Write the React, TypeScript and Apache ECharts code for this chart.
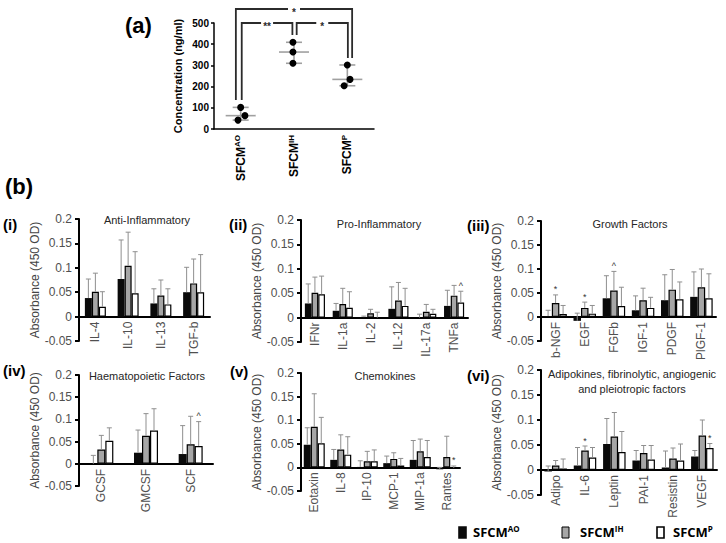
import React, { useEffect, useRef } from 'react';
import * as echarts from 'echarts';

const FONT = "'Liberation Sans', Arial, Helvetica, sans-serif";
const LEGEND_FONT = "'Open Sans', 'Liberation Sans', Arial, sans-serif";
const AXIS_GREY = '#505050';

// Groups
const groupNames = ['AO', 'IH', 'P'];
const groupFill = ['#0a0a0a', '#a6a6a6', '#ffffff'];

// ---- Panel (a): concentration, ng/ml (three replicates per group)
const aReplicates = [
  [102, 63, 42],
  [409, 363, 310],
  [302, 234, 204],
];
const aDotJitter = [
  [0, 0.08, -0.05],
  [-0.02, -0.02, -0.02],
  [0, 0.05, -0.06],
];
const aBrackets = [
  { left: 0.41, right: 2.59, top: 566, leftEnd: 137, rightEnd: 335, label: '*' },
  { left: 0.52, right: 1.47, top: 500, leftEnd: 137, rightEnd: 443, label: '**' },
  { left: 1.55, right: 2.51, top: 500, leftEnd: 443, rightEnd: 335, label: '*' },
];

// ---- Panel (i) Anti-Inflammatory
const iCats = ['IL-4', 'IL-10', 'IL-13', 'TGF-b'];
const iAO = [0.038, 0.077, 0.027, 0.05];
const iIH = [0.051, 0.104, 0.043, 0.068];
const iP = [0.02, 0.048, 0.025, 0.05];
const iAOsd = [0.039, 0.08, 0.03, 0.051];
const iIHsd = [0.038, 0.069, 0.032, 0.05];
const iPsd = [0.031, 0.085, 0.032, 0.077];
const iMarks: [number, number, string][] = [];

// ---- Panel (ii) Pro-Inflammatory
const iiCats = ['IFNr', 'IL-1a', 'IL-2', 'IL-12', 'IL-17a', 'TNFa'];
const iiAO = [0.029, 0.014, 0.001, 0.018, 0.0, 0.024];
const iiIH = [0.051, 0.028, 0.009, 0.035, 0.012, 0.045];
const iiP = [0.048, 0.02, 0.0, 0.024, 0.008, 0.031];
const iiAOsd = [0.04, 0.015, 0.002, 0.045, 0.007, 0.032];
const iiIHsd = [0.032, 0.032, 0.008, 0.037, 0.015, 0.021];
const iiPsd = [0.037, 0.033, 0.011, 0.036, 0.009, 0.023];
const iiMarks: [number, number, string][] = [[5, 2, '^']];

// ---- Panel (iii) Growth Factors
const iiiCats = ['b-NGF', 'EGF', 'FGFb', 'IGF-1', 'PDGF', 'PlGF-1'];
const iiiAO = [0.002, -0.008, 0.039, 0.014, 0.035, 0.042];
const iiiIH = [0.029, 0.019, 0.055, 0.035, 0.057, 0.062];
const iiiP = [0.006, 0.007, 0.023, 0.019, 0.037, 0.039];
const iiiAOsd = [0.012, 0.016, 0.047, 0.03, 0.053, 0.052];
const iiiIHsd = [0.017, 0.012, 0.04, 0.025, 0.042, 0.038];
const iiiPsd = [0.018, 0.017, 0.039, 0.022, 0.036, 0.051];
const iiiMarks: [number, number, string][] = [[0, 1, '*'], [1, 1, '*'], [2, 1, '^']];

// ---- Panel (iv) Haematopoietic Factors
const ivCats = ['GCSF', 'GMCSF', 'SCF'];
const ivAO = [0.0, 0.025, 0.022];
const ivIH = [0.032, 0.063, 0.044];
const ivP = [0.052, 0.075, 0.04];
const ivAOsd = [0.019, 0.051, 0.064];
const ivIHsd = [0.032, 0.05, 0.063];
const ivPsd = [0.029, 0.049, 0.055];
const ivMarks: [number, number, string][] = [[2, 2, '^']];

// ---- Panel (v) Chemokines
const vCats = ['Eotaxin', 'IL-8', 'IP-10', 'MCP-1', 'MIP-1a', 'Rantes'];
const vAO = [0.048, 0.016, 0.001, 0.009, 0.016, -0.004];
const vIH = [0.086, 0.038, 0.013, 0.018, 0.034, 0.022];
const vP = [0.051, 0.027, 0.013, 0.004, 0.022, -0.001];
const vAOsd = [0.036, 0.022, 0.013, 0.015, 0.041, 0.004];
const vIHsd = [0.07, 0.031, 0.021, 0.013, 0.026, 0.044];
const vPsd = [0.055, 0.038, 0.024, 0.015, 0.035, 0.004];
const vMarks: [number, number, string][] = [[5, 2, '*']];

// ---- Panel (vi) Adipokines, fibrinolytic, angiogenic and pleiotropic factors
const viCats = ['Adipo', 'IL-6', 'Leptin', 'PAI-1', 'Resistin', 'VEGF'];
const viAO = [-0.003, 0.009, 0.052, 0.019, 0.005, 0.027];
const viIH = [0.009, 0.039, 0.067, 0.034, 0.023, 0.069];
const viP = [0.003, 0.025, 0.036, 0.021, 0.019, 0.044];
const viAOsd = [0.011, 0.036, 0.051, 0.02, 0.033, 0.012];
const viIHsd = [0.01, 0.009, 0.048, 0.015, 0.021, 0.031];
const viPsd = [0.019, 0.02, 0.041, 0.028, 0.033, 0.009];
const viMarks: [number, number, string][] = [[1, 1, '*'], [5, 2, '*']];

// Layout (positions/styles only)
const panels = [
  { tag: '(i)', title: ['Anti-Inflammatory'], cats: iCats, vals: [iAO, iIH, iP], sds: [iAOsd, iIHsd, iPsd], marks: iMarks,
    grid: { left: 79, top: 219, width: 131, height: 122 }, bw: 7, nameGap: 36, tagPos: [3, 224], titlePos: [147, 220] },
  { tag: '(ii)', title: ['Pro-Inflammatory'], cats: iiCats, vals: [iiAO, iiIH, iiP], sds: [iiAOsd, iiIHsd, iiPsd], marks: iiMarks,
    grid: { left: 301, top: 220, width: 167, height: 122 }, bw: 6.7, nameGap: 32, tagPos: [229, 224], titlePos: [379, 224] },
  { tag: '(iii)', title: ['Growth Factors'], cats: iiiCats, vals: [iiiAO, iiiIH, iiiP], sds: [iiiAOsd, iiiIHsd, iiiPsd], marks: iiiMarks,
    grid: { left: 541, top: 221, width: 175, height: 120 }, bw: 7.5, nameGap: 33, tagPos: [467, 225], titlePos: [630, 224] },
  { tag: '(iv)', title: ['Haematopoietic Factors'], cats: ivCats, vals: [ivAO, ivIH, ivP], sds: [ivAOsd, ivIHsd, ivPsd], marks: ivMarks,
    grid: { left: 79, top: 375, width: 134, height: 111 }, bw: 8, nameGap: 37, tagPos: [3, 370], titlePos: [147, 376] },
  { tag: '(v)', title: ['Chemokines'], cats: vCats, vals: [vAO, vIH, vP], sds: [vAOsd, vIHsd, vPsd], marks: vMarks,
    grid: { left: 301, top: 373, width: 159, height: 118 }, bw: 7, nameGap: 33, tagPos: [230, 371], titlePos: [385, 376] },
  { tag: '(vi)', title: ['Adipokines, fibrinolytic, angiogenic', 'and pleiotropic factors'], cats: viCats, vals: [viAO, viIH, viP], sds: [viAOsd, viIHsd, viPsd], marks: viMarks,
    grid: { left: 541, top: 370, width: 176, height: 125 }, bw: 7.5, nameGap: 33, tagPos: [467, 375], titlePos: [632, 374] },
];

function median(a: number[]) {
  const s = [...a].sort((x, y) => x - y);
  return s[Math.floor(s.length / 2)];
}

const supRich = (size: number, supSize: number, family: string) => ({
  b: { fontSize: size, fontWeight: 'bold', fontFamily: family, color: '#000', lineHeight: size + 2 },
  s: { fontSize: supSize, fontWeight: 'bold', fontFamily: family, color: '#000', verticalAlign: 'top', lineHeight: supSize + 1 },
});

function buildOption() {
  const grids: any[] = [{ left: 214, top: 23, width: 160, height: 106, outerBoundsMode: 'none' }];
  const xAxes: any[] = [
    {
      gridIndex: 0, type: 'category', data: groupNames,
      axisLine: { lineStyle: { color: '#000', width: 1.5 } },
      axisTick: { show: false },
      axisLabel: {
        rotate: 90, margin: 6, interval: 0,
        formatter: (v: string) => `{b|SFCM}{s|${v}}`,
        rich: supRich(12, 8, FONT),
      },
    },
    { gridIndex: 0, type: 'value', min: 0, max: 3, show: false },
  ];
  const yAxes: any[] = [
    {
      gridIndex: 0, type: 'value', min: 0, max: 500, interval: 100,
      axisLine: { show: true, lineStyle: { color: '#000', width: 1.5 } },
      axisTick: { show: true, length: 3, lineStyle: { color: '#000', width: 1.5 } },
      axisLabel: { color: '#000', fontSize: 10, fontWeight: 'bold', fontFamily: FONT, margin: 5 },
      splitLine: { show: false },
      name: 'Concentration (ng/ml)', nameLocation: 'middle', nameGap: 31,
      nameTextStyle: { color: '#000', fontSize: 11, fontWeight: 'bold', fontFamily: FONT },
    },
  ];
  const series: any[] = [];

  // panel (a) median / range
  const aStats = aReplicates.map((r, i) => [i + 0.5, median(r), Math.min(...r), Math.max(...r)]);
  series.push({
    type: 'custom', xAxisIndex: 1, yAxisIndex: 0, clip: false, z: 2,
    data: aStats,
    encode: { x: 0, y: 1 },
    renderItem: (_p: any, api: any) => {
      const cx = api.value(0), med = api.value(1), lo = api.value(2), hi = api.value(3);
      const pm = api.coord([cx, med]);
      const pl = api.coord([cx, lo]);
      const ph = api.coord([cx, hi]);
      const st = { stroke: '#a0a0a0', lineWidth: 1.6 };
      return {
        type: 'group',
        children: [
          { type: 'line', shape: { x1: pm[0], y1: pl[1], x2: pm[0], y2: ph[1] }, style: st },
          { type: 'line', shape: { x1: pm[0] - 15, y1: pm[1], x2: pm[0] + 15, y2: pm[1] }, style: st },
          { type: 'line', shape: { x1: pm[0] - 8, y1: pl[1], x2: pm[0] + 8, y2: pl[1] }, style: st },
          { type: 'line', shape: { x1: pm[0] - 8, y1: ph[1], x2: pm[0] + 8, y2: ph[1] }, style: st },
        ],
      };
    },
  });
  const dots: number[][] = [];
  aReplicates.forEach((r, i) => r.forEach((v, j) => dots.push([i + 0.5 + aDotJitter[i][j], v])));
  series.push({
    type: 'scatter', xAxisIndex: 1, yAxisIndex: 0, data: dots, symbolSize: 7, z: 3,
    itemStyle: { color: '#000', opacity: 1 },
  });
  // significance brackets
  series.push({
    type: 'custom', xAxisIndex: 1, yAxisIndex: 0, clip: false, z: 4,
    data: aBrackets.map((b) => [b.left, b.top]),
    encode: { x: 0, y: 1 },
    renderItem: (p: any, api: any) => {
      const b = aBrackets[p.dataIndex];
      const L = api.coord([b.left, b.top]);
      const R = api.coord([b.right, b.top]);
      const Ld = api.coord([b.left, b.leftEnd]);
      const Rd = api.coord([b.right, b.rightEnd]);
      const mid = (L[0] + R[0]) / 2;
      const gap = 6;
      const st = { stroke: '#2b2b2b', lineWidth: 1.8, fill: 'none' };
      return {
        type: 'group',
        children: [
          { type: 'polyline', shape: { points: [Ld, L, [mid - gap, L[1]]] }, style: st },
          { type: 'polyline', shape: { points: [[mid + gap, R[1]], R, Rd] }, style: st },
          { type: 'text', x: mid, y: L[1] + 3, style: { text: b.label, align: 'center', verticalAlign: 'middle', fontSize: 10, fontWeight: 'bold', fontFamily: FONT, fill: '#2b2b2b' } },
        ],
      };
    },
  });

  const graphics: any[] = [
    { type: 'text', x: 125, y: 25, style: { text: '(a)', fontSize: 22, fontWeight: 'bold', fontFamily: FONT, fill: '#000', verticalAlign: 'middle' } },
    { type: 'text', x: 5, y: 186, style: { text: '(b)', fontSize: 22, fontWeight: 'bold', fontFamily: FONT, fill: '#000', verticalAlign: 'middle' } },
  ];

  panels.forEach((pn, k) => {
    const gi = k + 1;
    const xi = k + 2;
    const yi = k + 1;
    grids.push({ ...pn.grid, outerBoundsMode: 'none' });
    xAxes.push({
      gridIndex: gi, type: 'category', data: pn.cats,
      axisLine: { onZero: true, lineStyle: { color: '#000', width: 2 } },
      axisTick: { show: false },
      axisLabel: { show: false },
    });
    yAxes.push({
      gridIndex: gi, type: 'value', min: -0.05, max: 0.2, interval: 0.05,
      axisLine: { show: true, onZero: false, lineStyle: { color: '#000', width: 2 } },
      axisTick: { show: true, length: 4, lineStyle: { color: '#000', width: 2 } },
      axisLabel: { color: AXIS_GREY, fontSize: 12, fontFamily: FONT, margin: 7 },
      splitLine: { show: false },
      name: 'Absorbance (450 OD)', nameLocation: 'middle', nameGap: pn.nameGap,
      nameTextStyle: { color: '#444', fontSize: 12, fontFamily: FONT },
    });
    pn.vals.forEach((vals, g) => {
      series.push({
        type: 'bar', xAxisIndex: xi, yAxisIndex: yi, data: vals, barWidth: pn.bw, barGap: '0%',
        itemStyle: { color: groupFill[g], borderColor: '#000', borderWidth: g === 0 ? 0 : 1.2 },
        z: 2,
      });
    });
    const errData: number[][] = [];
    const errMarks: (string | null)[] = [];
    pn.vals.forEach((vals, g) => {
      vals.forEach((v, c) => {
        errData.push([c, g, v, v + pn.sds[g][c]]);
        const m = pn.marks.find((mm) => mm[0] === c && mm[1] === g);
        errMarks.push(m ? m[2] : null);
      });
    });
    const bw = pn.bw;
    series.push({
      type: 'custom', xAxisIndex: xi, yAxisIndex: yi, clip: false, z: 3,
      data: errData,
      encode: { x: 0, y: 3 },
      renderItem: (p: any, api: any) => {
        const c = api.value(0), g = api.value(1), v = api.value(2), top = api.value(3);
        const p0 = api.coord([c, v]);
        const p1 = api.coord([c, top]);
        const x = p0[0] + (g - 1) * bw;
        const st = { stroke: '#8f8f8f', lineWidth: 1 };
        const children: any[] = [
          { type: 'line', shape: { x1: x, y1: p0[1], x2: x, y2: p1[1] }, style: st },
          { type: 'line', shape: { x1: x - 2.5, y1: p1[1], x2: x + 2.5, y2: p1[1] }, style: st },
        ];
        const m = errMarks[p.dataIndex];
        if (m) {
          children.push({ type: 'text', x, y: p1[1] - 1, style: { text: m, align: 'center', verticalAlign: 'bottom', fontSize: 9, fontFamily: FONT, fill: '#333' } });
        }
        return { type: 'group', children };
      },
    });
    // category labels, rotated, just under the zero line
    const cats = pn.cats;
    series.push({
      type: 'custom', xAxisIndex: xi, yAxisIndex: yi, clip: false, z: 5, silent: true,
      data: cats.map((_c, i) => [i, 0]),
      encode: { x: 0, y: 1 },
      renderItem: (p: any, api: any) => {
        const pt = api.coord([api.value(0), 0]);
        return {
          type: 'text', x: pt[0], y: pt[1] + 5, rotation: Math.PI / 2,
          style: { text: cats[p.dataIndex], align: 'right', verticalAlign: 'middle', fontSize: 12, fontFamily: FONT, fill: AXIS_GREY },
        };
      },
    });
    graphics.push({ type: 'text', x: pn.tagPos[0], y: pn.tagPos[1], style: { text: pn.tag, fontSize: 15, fontWeight: 'bold', fontFamily: FONT, fill: '#000', verticalAlign: 'middle' } });
    pn.title.forEach((t, li) => {
      graphics.push({ type: 'text', x: pn.titlePos[0], y: pn.titlePos[1] + li * 15, style: { text: t, fontSize: 11, fontFamily: FONT, fill: '#262626', align: 'center', verticalAlign: 'middle' } });
    });
  });

  // legend
  const legendRectX = [459, 562, 657];
  const legendTextX = [473, 580, 673];
  groupNames.forEach((g, i) => {
    graphics.push({ type: 'rect', shape: { x: legendRectX[i], y: 527, width: 7, height: 11 }, style: { fill: groupFill[i], stroke: i === 0 ? groupFill[0] : '#000', lineWidth: i === 1 ? 1 : 1.6 } });
    graphics.push({
      type: 'text', x: legendTextX[i], y: 532,
      style: { text: `{b|SFCM}{s|${g}}`, verticalAlign: 'middle', rich: supRich(13, 8, LEGEND_FONT) },
    });
  });

  return {
    animation: false,
    backgroundColor: '#fff',
    textStyle: { fontFamily: FONT },
    grid: grids,
    xAxis: xAxes,
    yAxis: yAxes,
    series,
    graphic: graphics,
  };
}

export default function App() {
  const ref = useRef<HTMLDivElement>(null);
  useEffect(() => {
    document.body.style.margin = '0';
    const chart = echarts.init(ref.current!, null, { renderer: 'svg' });
    chart.setOption(buildOption() as any);
    return () => chart.dispose();
  }, []);
  return <div ref={ref} style={{ width: 726, height: 543 }} />;
}
